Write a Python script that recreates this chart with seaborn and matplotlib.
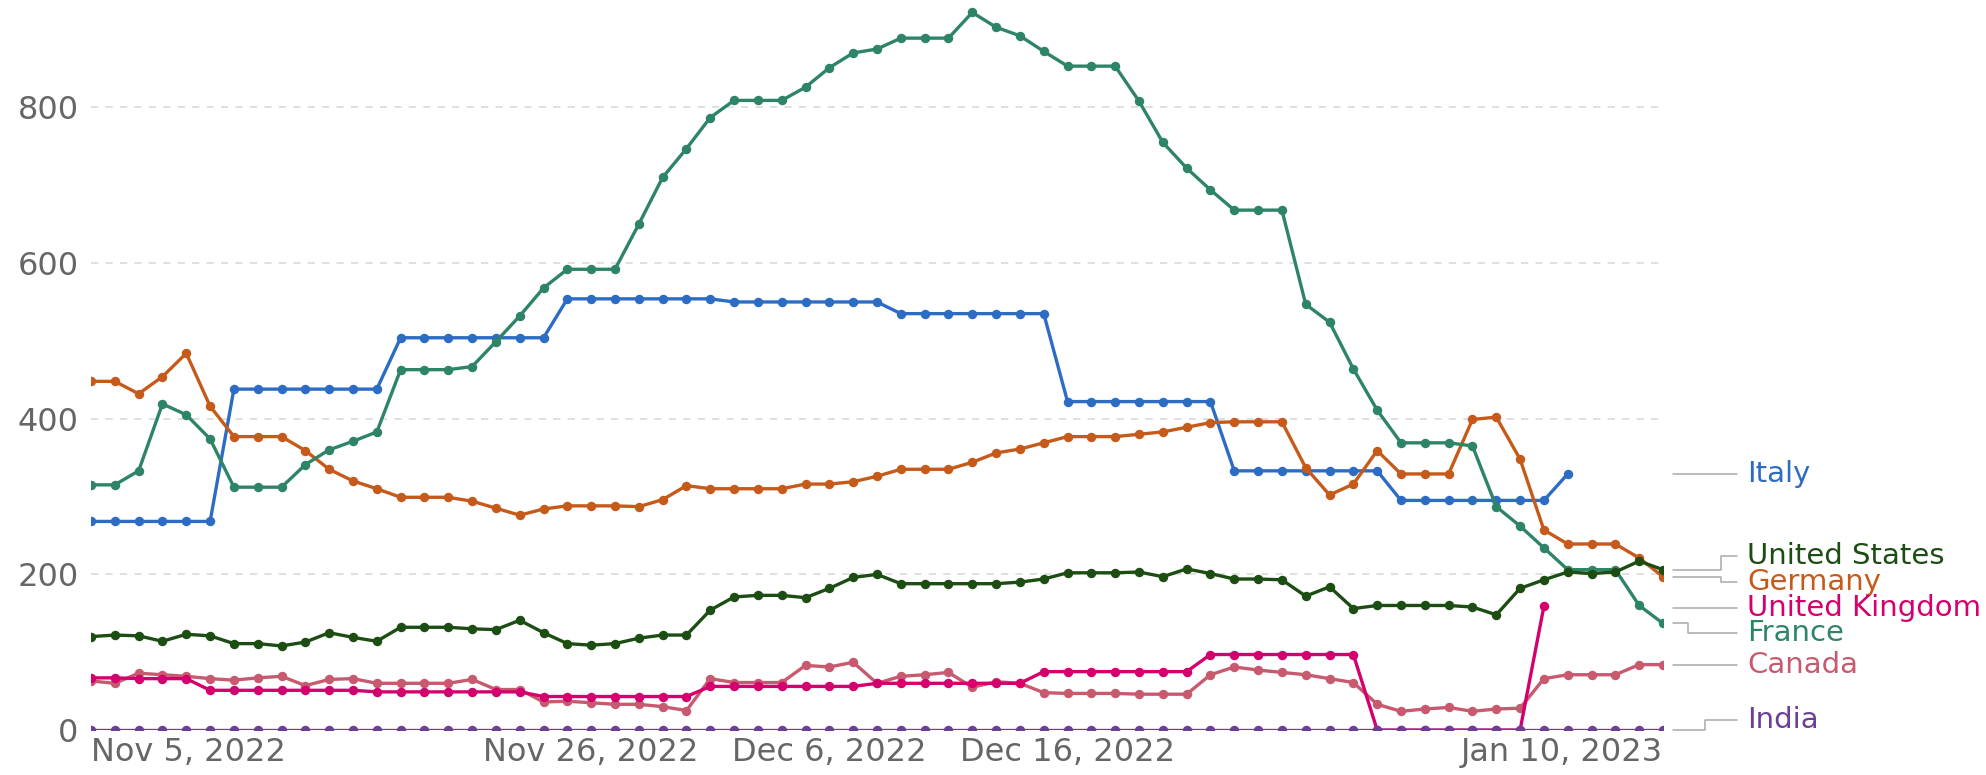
import numpy as np
import pandas as pd
import matplotlib
matplotlib.use("Agg")
import matplotlib.pyplot as plt
import matplotlib.dates as mdates
import seaborn as sns

start_date = "2022-11-05"
end_date = "2023-01-10"

france = [315, 315, 333, 419, 405, 374, 312, 312, 312, 341, 360, 371, 383, 463, 463, 463, 467, 499, 532, 568,
          592, 592, 592, 650, 710, 747, 787, 809, 809, 809, 826, 851, 870, 875, 889, 889, 889, 922, 903, 892,
          872, 853, 853, 853, 808, 755, 722, 694, 668, 668, 668, 547, 524, 464, 411, 369, 369, 369, 365, 287,
          262, 234, 206, 206, 206, 160, 137]
italy = [268] * 6 + [438] * 7 + [504] * 7 + [554] * 7 + [550] * 7 + [535] * 7 + [422] * 7 + [333] * 7 + [295] * 7 + [329]
germany = [448, 448, 432, 454, 484, 416, 377, 377, 377, 359, 335, 320, 310, 299, 299, 299, 294, 285, 276, 284,
           288, 288, 288, 287, 296, 314, 310, 310, 310, 310, 316, 316, 319, 326, 335, 335, 335, 344, 356, 361,
           369, 377, 377, 377, 380, 383, 389, 395, 396, 396, 396, 337, 302, 316, 359, 329, 329, 329, 399, 402,
           348, 257, 239, 239, 239, 221, 197]
united_states = [120, 122, 121, 114, 123, 121, 111, 111, 108, 113, 125, 119, 114, 132, 132, 132, 130, 129, 141, 125,
                 111, 109, 111, 118, 122, 122, 154, 171, 173, 173, 170, 182, 196, 200, 188, 188, 188, 188, 188, 190,
                 194, 202, 202, 202, 203, 197, 207, 201, 194, 194, 193, 172, 184, 156, 160, 160, 160, 160, 158, 148,
                 182, 193, 203, 201, 203, 217, 206]
united_kingdom = [67, 67, 66, 66, 66] + [51] * 7 + [49] * 7 + [43] * 7 + [56] * 7 + [60] * 7 + [75] * 7 + [97] * 7 + [0] * 7 + [159]
canada = [63, 60, 73, 71, 69, 66, 64, 67, 69, 57, 65, 66, 60, 60, 60, 60, 65, 52, 52, 36,
          37, 35, 33, 33, 30, 25, 66, 61, 61, 61, 83, 81, 87, 60, 69, 71, 74, 55, 62, 60,
          48, 47, 47, 47, 46, 46, 46, 71, 81, 77, 74, 71, 66, 61, 33, 24, 27, 29, 24, 27,
          28, 66, 71, 71, 71, 84, 84]
india = [0] * 67

countries = ["Italy", "Germany", "France", "United States", "Canada", "United Kingdom", "India"]
series = [italy, germany, france, united_states, canada, united_kingdom, india]
colors = ["#2d6cc4", "#c55a1b", "#2e8466", "#1c4d12", "#c85a70", "#d4006e", "#6b3f98"]

dates = pd.date_range(start_date, end_date, freq="D")
frames = []
for name, vals in zip(countries, series):
    frames.append(pd.DataFrame({"date": dates[:len(vals)], "value": vals, "country": name}))
df = pd.concat(frames, ignore_index=True)

sns.set_style("white")
plt.rcParams["font.family"] = ["DejaVu Sans"]

fig = plt.figure(figsize=(19.86, 7.75), dpi=100)
ax = fig.add_axes([91 / 1986, 1 - 730 / 775, (1663 - 91) / 1986, 730 / 775])

sns.lineplot(data=df, x="date", y="value", hue="country", hue_order=countries,
             palette=dict(zip(countries, colors)), marker="o", markersize=6.8,
             markeredgewidth=0, linewidth=2.4, legend=False, ax=ax, zorder=3)

ax.set_xlim(dates[0], dates[-1])
ax.set_ylim(0, 938)
ax.set_yticks([0, 200, 400, 600, 800])
ax.yaxis.grid(True, linestyle=(0, (4, 4)), color="#dddddd", linewidth=1.3, zorder=0)
ax.xaxis.grid(False)
for s in ax.spines.values():
    s.set_visible(False)

tick_dates = pd.to_datetime(["2022-11-05", "2022-11-26", "2022-12-06", "2022-12-16", "2023-01-10"])
ax.set_xticks(tick_dates)
ax.set_xticklabels([d.strftime("%b ") + str(d.day) + d.strftime(", %Y") for d in tick_dates])
ax.tick_params(axis="x", length=4, width=1, color="#999999", pad=1, labelsize=23, labelcolor="#666666")
ax.tick_params(axis="y", length=0, pad=9, labelsize=23, labelcolor="#666666")
xt = ax.get_xticklabels()
xt[0].set_ha("left")
xt[-1].set_ha("right")
ax.set_xlabel("")
ax.set_ylabel("")

# right-side labels with leader lines
tr = ax.get_yaxis_transform()
W = 1663 - 91
def ax_x(px):
    return (px - 91) / W

last_vals = {name: vals[-1] for name, vals in zip(countries, series)}
label_y = {"Italy": 328.5, "United States": 224, "Germany": 190, "United Kingdom": 157,
           "France": 124, "Canada": 83, "India": 13}
bend_x = {"United States": 1721, "Germany": 1721, "France": 1688, "India": 1705}
for name, col in zip(countries, colors):
    y0 = last_vals[name]
    y1 = label_y[name]
    x0 = ax_x(1673)
    x2 = ax_x(1737)
    if name in bend_x:
        xb = ax_x(bend_x[name])
        xs = [x0, xb, xb, x2]
        ys = [y0, y0, y1, y1]
    else:
        xs = [x0, x2]
        ys = [y1, y1]
    ax.plot(xs, ys, transform=tr, color="#aaaaaa", linewidth=1.1, clip_on=False)
    ax.text(ax_x(1747), y1, name, transform=tr, color=col, fontsize=21,
            va="center", ha="left", clip_on=False)

fig.savefig("out.png", dpi=100)
